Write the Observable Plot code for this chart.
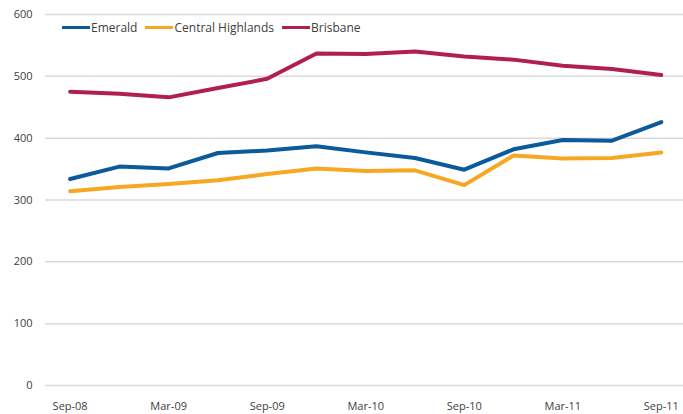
<!DOCTYPE html>
<html>
<head>
<meta charset="utf-8">
<script src="https://cdn.jsdelivr.net/npm/d3@7"></script>
<script src="https://cdn.jsdelivr.net/npm/@observablehq/plot@0.6"></script>
<style>
  html, body { margin: 0; padding: 0; background: #fff; }
  #wrap { position: relative; width: 683px; height: 414px; font-family: "Open Sans", sans-serif; }
  #legend { position: absolute; left: 62px; top: 19px; display: flex; align-items: center; font-size: 12px; color: #404040; }
  .item { display: flex; align-items: center; margin-right: 8px; }
  .sw { width: 28px; height: 3px; margin-right: 1px; }
</style>
</head>
<body>
<div id="wrap"><div id="legend"></div></div>
<script>
const quarters = ["Sep-08","Dec-08","Mar-09","Jun-09","Sep-09","Dec-09","Mar-10","Jun-10","Sep-10","Dec-10","Mar-11","Jun-11","Sep-11"];
const emerald = [334, 354, 351, 376, 380, 387, 377, 368, 349, 382, 397, 396, 426];
const centralHighlands = [314, 321, 326, 332, 342, 351, 347, 348, 324, 372, 367, 368, 377];
const brisbane = [475, 472, 466, 481, 496, 537, 536, 540, 532, 527, 517, 512, 502];
const seriesNames = ["Emerald", "Central Highlands", "Brisbane"];
const seriesColors = ["#0b5a9b", "#f7a823", "#b11f4e"];
const yTicks = [0, 100, 200, 300, 400, 500, 600];

const allValues = [emerald, centralHighlands, brisbane];
const data = [];
allValues.forEach((vals, s) => vals.forEach((v, i) => data.push({series: seriesNames[s], i, q: quarters[i], v})));

const chart = Plot.plot({
  width: 683,
  height: 414,
  marginLeft: 45,
  marginRight: 0,
  marginTop: 14,
  marginBottom: 29,
  style: {fontFamily: "Open Sans, sans-serif", fontSize: "11px", color: "#404040", background: "#fff"},
  x: {domain: [-0.5, 12.45], ticks: d3.range(0, 13, 2), tickFormat: i => quarters[i], tickSize: 0, tickPadding: 17, label: null},
  y: {domain: [0, 600], ticks: yTicks, tickSize: 0, tickPadding: 13, label: null},
  color: {domain: seriesNames, range: seriesColors},
  marks: [
    Plot.gridY(yTicks, {stroke: "#d9d9d9", strokeOpacity: 1, strokeWidth: 1.5}),
    Plot.axisX({ticks: d3.range(0, 13, 2), tickFormat: i => quarters[i], tickSize: 0, tickPadding: 17, fill: "#404040"}),
    Plot.axisY({ticks: yTicks, tickSize: 0, tickPadding: 13, fill: "#404040"}),
    Plot.line(data, {x: "i", y: "v", z: "series", stroke: "series", strokeWidth: 4, strokeLinejoin: "round", strokeLinecap: "round"})
  ]
});
document.getElementById("wrap").prepend(chart);

const legend = document.getElementById("legend");
seriesNames.forEach((n, k) => {
  const it = document.createElement("div");
  it.className = "item";
  const sw = document.createElement("div");
  sw.className = "sw";
  sw.style.background = seriesColors[k];
  const t = document.createElement("span");
  t.textContent = n;
  it.appendChild(sw); it.appendChild(t);
  legend.appendChild(it);
});
</script>
</body>
</html>
